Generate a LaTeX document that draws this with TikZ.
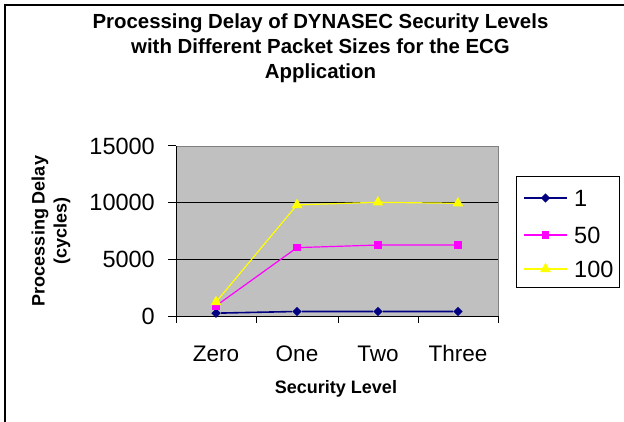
\documentclass[tikz,border=0pt]{standalone}
\usepackage{fontspec}
\setmainfont{Liberation Sans}
\usetikzlibrary{shapes.geometric, positioning}

\definecolor{seriesone}{HTML}{000080}
\definecolor{seriesfifty}{HTML}{FF00FF}
\definecolor{serieshundred}{HTML}{FFFF00}
\definecolor{plotgray}{HTML}{C0C0C0}
\definecolor{plotedge}{HTML}{808080}

\begin{document}
\begin{tikzpicture}[
    x=1pt, y=-1pt,
    title/.style={font=\fontsize{20.4}{25}\selectfont\bfseries, align=center, inner sep=0pt},
    axtitle/.style={font=\fontsize{18}{22}\selectfont\bfseries, align=center, inner sep=0pt},
    ticklabel/.style={font=\fontsize{23.5}{26}\selectfont, inner sep=0pt},
    catlabel/.style={font=\fontsize{22.5}{26}\selectfont, inner sep=0pt, anchor=base},
    mkone/.style={diamond, fill=seriesone, inner sep=0pt, minimum size=9.5pt},
    mkfifty/.style={rectangle, fill=seriesfifty, inner sep=0pt, minimum size=7.5pt},
    mkhundred/.style={regular polygon, regular polygon sides=3, fill=serieshundred, inner sep=0pt, minimum size=12.5pt},
    lnone/.style={seriesone, line width=1.6pt},
    lnfifty/.style={seriesfifty, line width=1.2pt},
    lnhundred/.style={serieshundred, line width=1.2pt},
    grid/.style={black, line width=0.8pt},
    axis/.style={black, line width=0.9pt}
]
    \useasboundingbox (0,0) rectangle (624,422);

    % Chart border
    \draw[line width=1.8pt] (5,422) -- (5,5) -- (624,5);

    % Title
    \node[title, anchor=north] (charttitle) at (320.5,14) {Processing Delay of DYNASEC Security Levels\\with Different Packet Sizes for the ECG\\Application};

    % Plot area (values in cycles)
    \begin{scope}[shift={(0,316)}, y=0.0113333pt]
        \fill[plotgray] (176,0) rectangle (498,15000);
        \draw[plotedge, line width=0.6pt] (176,15000) -- (498,15000) -- (498,0);
        \draw[grid] (176,5000) -- (498,5000);
        \draw[grid] (176,10000) -- (498,10000);
        \draw[axis] (176,0) -- (176,15000);
        \draw[axis] (176,0) -- (498,0);
        \foreach \v in {0,5000,10000,15000} {
            \draw[axis] (168,\v) -- (176,\v);
            \node[ticklabel, anchor=east] at (155,\v) {\v};
        }
        \foreach \t in {176,256,338,418,498}
            \draw[axis] (\t,0) -- (\t,-620);

        % Series 1
        \node[mkone] (one0) at (216,250) {};
        \node[mkone] (one1) at (297,400) {};
        \node[mkone] (one2) at (378,400) {};
        \node[mkone] (one3) at (458,400) {};
        \draw[lnone] (one0) -- (one1) -- (one2) -- (one3);

        % Series 50
        \node[mkfifty] (fifty0) at (216,900) {};
        \node[mkfifty] (fifty1) at (297,6030) {};
        \node[mkfifty] (fifty2) at (378,6260) {};
        \node[mkfifty] (fifty3) at (458,6260) {};
        \draw[lnfifty] (fifty0) -- (fifty1) -- (fifty2) -- (fifty3);

        % Series 100
        \draw[lnhundred] (216,1230) coordinate (hun0) -- (297,9800) coordinate (hun1)
            -- (378,10030) coordinate (hun2) -- (458,9940) coordinate (hun3);
        \foreach \p in {hun0,hun1,hun2,hun3}
            \node[mkhundred] at (\p) {};
    \end{scope}

    % Axis labels
    \node[catlabel] (zero) at (216,361.5) {Zero};
    \node[catlabel] (one) at (297,361.5) {One};
    \node[catlabel] (two) at (378,361.5) {Two};
    \node[catlabel] (three) at (458,361.5) {Three};
    \node[axtitle, anchor=base] (xtitle) at (336,393) {Security Level};
    \node[axtitle, rotate=90] (ytitle) at (51,231) {Processing Delay\\(cycles)};

    % Legend
    \draw[black, line width=0.8pt, fill=white] (516,176) rectangle (619,287);
    \coordinate (la) at (524,198); \coordinate (lb) at (567,198);
    \coordinate (lc) at (524,235); \coordinate (ld) at (567,235);
    \coordinate (le) at (524,269); \coordinate (lf) at (567,269);
    \draw[lnone] (la) -- (lb);
    \node[mkone] at (545.5,198) {};
    \draw[lnfifty] (lc) -- (ld);
    \node[mkfifty] at (545.5,235) {};
    \draw[lnhundred] (le) -- (lf);
    \node[mkhundred] at (545.5,269) {};
    \node[ticklabel, anchor=west] (legone) at (574,198) {1};
    \node[ticklabel, anchor=west] (legfifty) at (574,235) {50};
    \node[ticklabel, anchor=west] (leghundred) at (574,269) {100};

\end{tikzpicture}
\end{document}
